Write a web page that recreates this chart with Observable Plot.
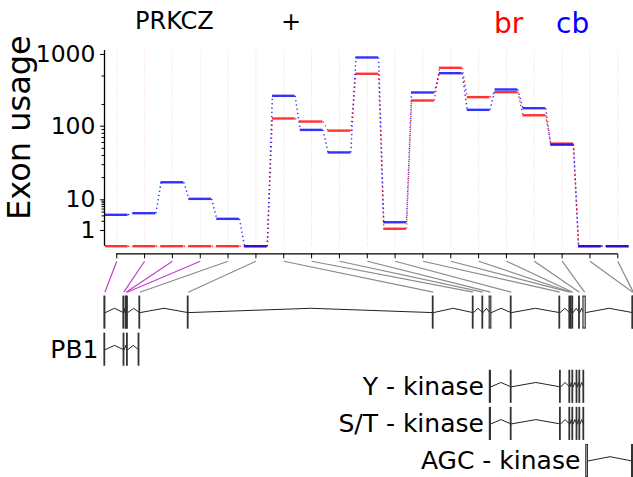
<!DOCTYPE html>
<html><head><meta charset="utf-8">
<script src="https://cdn.jsdelivr.net/npm/d3@7"></script>
<script src="https://cdn.jsdelivr.net/npm/@observablehq/plot@0.6"></script>
<style>
body{margin:0;background:#fff;font-family:"DejaVu Sans",sans-serif;}
#wrap{position:relative;width:633px;height:477px;overflow:hidden;background:#fff;}
#wrap svg{position:absolute;left:0;top:0;}
.t{position:absolute;white-space:nowrap;font-family:"DejaVu Sans";}
</style></head><body>
<div id="wrap">
  <div class="t" style="left:135px;top:7px;font-size:24px;line-height:28px;">PRKCZ</div>
  <div class="t" style="left:281px;top:8px;font-size:24px;line-height:28px;">+</div>
  <div class="t" style="left:494px;top:7px;font-size:28px;line-height:33px;color:#FF0000;">br</div>
  <div class="t" style="left:556px;top:7px;font-size:28px;line-height:33px;color:#0000FF;">cb</div>
  <div class="t" style="left:-130.1px;top:109.4px;width:300px;height:37.2px;line-height:37.2px;font-size:32px;text-align:center;transform:rotate(-90deg);">Exon usage</div>
</div>
<script>
// ---------- data ----------
const BINS = d3.range(19);                       // exonic bins E001..E019
const BR = [0,0,0,0,0,0,128,116,87,538,1.14,228,652,254,298,142,58,0,0];
const CB = [3.25,3.66,17.3,10.3,2.4,0,265,89,44,908,1.86,295,548,169,325,178,56,0,0];
const SIG_BINS = [0,1,2,3];                      // highlighted bins
const CONDITIONS = ["br","cb"];
const COND_COLORS = ["#FF0000","#0000FF"];
// genomic positions of bins (kb from gene start)
const BIN_START = [0,4.75,5.32,5.52,8.75,20.85,82.1,92.1,94.5,96.3,101.6,113.75,116.25,116.6,117.0,118.67,119.75,132.0,132.12];
const BIN_END   = [0.2,4.9,5.52,5.82,8.9,21.0,82.25,92.25,94.65,96.7,101.75,113.9,116.4,116.75,117.15,118.82,120.3,132.12,132.25];
// transcripts / domains
const TRACK_NAMES = ["", "PB1", "Y - kinase", "S/T - kinase", "AGC - kinase"];
const TX_PB1 = [[0,0.15],[4.8,4.95],[5.65,5.8],[8.55,8.7]];
const TX_YK  = [[96.35,96.6],[101.6,101.75],[113.9,114.05],[116.25,116.4],[117.0,117.15],[118.05,118.2],[118.75,118.9],[119.75,119.9]];
const TX_STK = [[96.35,96.6],[101.6,101.75],[113.9,114.05],[116.25,116.4],[117.0,117.15],[118.05,118.2],[118.75,118.9],[119.75,119.9]];
const TX_AGC = [[120.45,120.85],[131.9,132.15]];
// y axis ticks
const Y_TICKS = [1,10,100,1000];
const Y_MINOR = [2,3,4,5,6,7,8,9,20,30,40,50,60,70,80,90,200,500];
// vst-like axis transform anchors
const VST_Q = [0,1,10,100,1000];
const VST_V = [0,0.212,0.627,1.622,2.591];

// ---------- helpers ----------
function vst(q){
  if (q <= 1) return q*VST_V[1];
  const l = Math.log10(q);
  const k = Math.min(2, Math.floor(l));
  return VST_V[k+1] + (l-k)*(VST_V[k+2]-VST_V[k+1]);
}
const HW = 0.408;
const X_DOM_A = [-0.44, 18.5], X_RANGE_A = [104, 631.2];
const Y_MIN = -0.1027, Y_TOP = 2.6446;
const VALUES = [BR, CB];

const wrap = document.getElementById("wrap");

// ---------- expression panel ----------
const usage = [];
CONDITIONS.forEach((c, ci) => BINS.forEach(i => usage.push({bin: i, cond: c, ci, v: VALUES[ci][i]})));
const links = [];
CONDITIONS.forEach((c, ci) => BINS.slice(0, -1).forEach(i => links.push({ci, a: i, b: i+1, va: VALUES[ci][i], vb: VALUES[ci][i+1]})));
const labelMap = new Map(Y_TICKS.map(t => [vst(t), String(t)]));
const sigSet = new Set(SIG_BINS);

const marksA = [
  Plot.ruleX(BINS.filter(i => !sigSet.has(i)), {x: d => d, y1: 0, y2: Y_TOP, stroke: "#aaa", strokeOpacity: 0.45, strokeDasharray: "1,2", strokeWidth: 1}),
  Plot.ruleX(SIG_BINS, {x: d => d, y1: 0, y2: Y_TOP, stroke: "#F219ED", strokeOpacity: 0.22, strokeDasharray: "1,2", strokeWidth: 1}),
];
CONDITIONS.forEach((c, ci) => {
  marksA.push(Plot.link(links.filter(d => d.ci === ci), {x1: d => d.a + HW, x2: d => d.b - HW, y1: d => vst(d.va), y2: d => vst(d.vb), stroke: COND_COLORS[ci], strokeOpacity: 0.8, strokeWidth: 1.5, strokeDasharray: "1.3,3"}));
});
CONDITIONS.forEach((c, ci) => {
  marksA.push(Plot.ruleY(usage.filter(d => d.ci === ci), {y: d => vst(d.v), x1: d => d.bin - HW, x2: d => d.bin + HW, stroke: COND_COLORS[ci], strokeOpacity: 0.8, strokeWidth: 2.4}));
});
marksA.push(
  Plot.axisY({ticks: Y_TICKS.map(vst), tickFormat: v => labelMap.get(v), tickSize: 4, tickPadding: 5, fontSize: 23.5, label: null}),
  Plot.axisY({ticks: Y_MINOR.map(vst), tickFormat: () => "", tickSize: 2.5, label: null}),
  Plot.ruleX([X_DOM_A[0]], {y1: 0, y2: Y_TOP, strokeWidth: 1.3}),
  Plot.axisX({ticks: BINS, tickFormat: () => "", tickSize: 5, label: null}),
  Plot.ruleY([Y_MIN], {x1: BINS[0], x2: BINS[BINS.length-1], strokeWidth: 1.3})
);

const plotA = Plot.plot({
  width: 633, height: 262,
  marginLeft: X_RANGE_A[0], marginRight: 633 - X_RANGE_A[1],
  marginTop: 50, marginBottom: 8.7,
  x: {type: "linear", domain: X_DOM_A},
  y: {type: "linear", domain: [Y_MIN, Y_TOP]},
  style: {background: "transparent", fontFamily: "DejaVu Sans", color: "black"},
  marks: marksA
});
wrap.appendChild(plotA);

// ---------- gene model panel ----------
const X_DOM_B = [0, 132.25], X_RANGE_B = [104, 633];
const xA = Plot.scale({x: {type: "linear", domain: X_DOM_A, range: X_RANGE_A}});
const xB = Plot.scale({x: {type: "linear", domain: X_DOM_B, range: X_RANGE_B}});
const EH = 0.43, CH = 0.116, T_TOP = -1.385, T_BOT = -0.55;

const tracks = [
  BINS.map(i => [BIN_START[i], BIN_END[i]]),
  TX_PB1, TX_YK, TX_STK, TX_AGC
];
const exons = [], introns = [];
tracks.forEach((ex, t) => {
  ex.forEach((e, j) => {
    exons.push({t, s: e[0], e: e[1]});
    if (j < ex.length - 1) {
      const n = ex[j+1];
      if (n[0] - e[1] > 0.05) {
        const id = t + "-" + j;
        introns.push({id, x: e[1], y: t});
        introns.push({id, x: (e[1] + n[0]) / 2, y: t - CH});
        introns.push({id, x: n[0], y: t});
      }
    }
  });
});
const conn = BINS.map(i => ({
  sig: sigSet.has(i),
  from: xB.invert(xA.apply(i)),
  to: (BIN_START[i] + BIN_END[i]) / 2
}));
const labels = TRACK_NAMES.map((n, t) => ({n, t, x: tracks[t][0][0]})).filter(d => d.n);

const plotB = Plot.plot({
  width: 633, height: 477,
  x: {type: "linear", domain: X_DOM_B, range: X_RANGE_B, axis: null},
  y: {type: "linear", domain: [-1.5, 4.4], range: [256.45, 475.34], axis: null},
  style: {background: "transparent", fontFamily: "DejaVu Sans", color: "black"},
  marks: [
    Plot.link(conn.filter(d => !d.sig), {x1: "from", x2: "to", y1: T_TOP, y2: T_BOT, stroke: "#8a8a8a", strokeWidth: 1.2}),
    Plot.link(conn.filter(d => d.sig), {x1: "from", x2: "to", y1: T_TOP, y2: T_BOT, stroke: "#C040C8", strokeWidth: 1.2}),
    Plot.line(introns, {x: "x", y: "y", z: "id", stroke: "#222", strokeWidth: 1}),
    Plot.rect(exons, {x1: "s", x2: "e", y1: d => d.t - EH, y2: d => d.t + EH, fill: "white", stroke: "#333", strokeWidth: 1.2}),
    Plot.text(labels, {x: "x", y: "t", text: "n", textAnchor: "end", dx: -6, fontSize: 25, fill: "black"})
  ]
});
wrap.appendChild(plotB);
</script>
</body></html>
